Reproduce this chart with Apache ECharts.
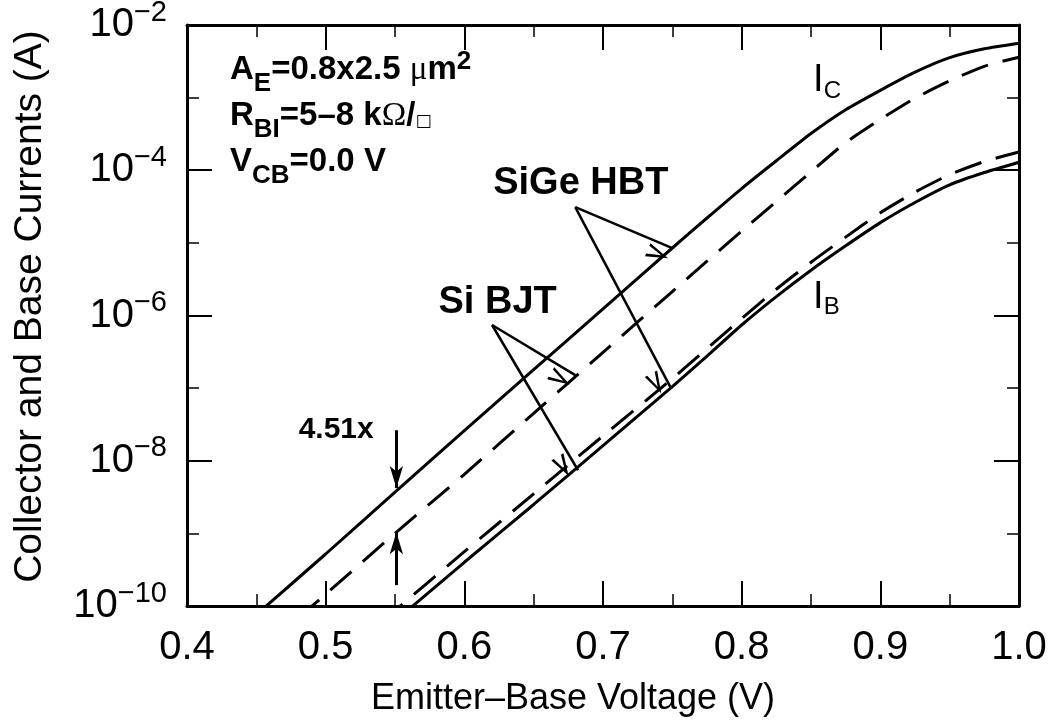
<!DOCTYPE html>
<html><head><meta charset="utf-8">
<script src="https://cdn.jsdelivr.net/npm/echarts@6/dist/echarts.min.js"></script>
<style>html,body{margin:0;padding:0;background:#fff}#c{width:1054px;height:727px}</style>
</head><body><div id="c"></div>
<script>
const FONT = '"Liberation Sans", Arial, Helvetica, sans-serif';

// ---------- data ----------
const vIcSiGe = [0.45, 0.50, 0.55, 0.60, 0.65, 0.70, 0.75, 0.775, 0.80, 0.825, 0.85, 0.875, 0.90, 0.925, 0.95, 0.975, 1.0];
const icSiGe  = [7.6e-11, 5.2e-10, 3.7e-9, 2.6e-8, 1.8e-7, 1.23e-6, 8.5e-6, 2.2e-5, 5.6e-5, 1.35e-4, 3.2e-4, 6.8e-4, 1.26e-3, 2.24e-3, 3.55e-3, 4.7e-3, 5.6e-3];
const vIcSi   = [0.48, 0.50, 0.55, 0.60, 0.65, 0.70, 0.75, 0.775, 0.80, 0.825, 0.85, 0.875, 0.90, 0.925, 0.95, 0.975, 1.0];
const icSi    = [6.8e-11, 1.45e-10, 1.0e-9, 6.5e-9, 4.5e-8, 3.1e-7, 2.14e-6, 5.6e-6, 1.45e-5, 3.7e-5, 9.5e-5, 2.4e-4, 5.0e-4, 9.8e-4, 1.7e-3, 2.7e-3, 3.6e-3];
const vIbSiGe = [0.55, 0.60, 0.65, 0.70, 0.75, 0.775, 0.80, 0.825, 0.85, 0.875, 0.90, 0.925, 0.95, 0.975, 1.0];
const ibSiGe  = [6.2e-11, 4.0e-10, 2.5e-9, 1.62e-8, 1.05e-7, 2.75e-7, 7.4e-7, 1.82e-6, 4.2e-6, 9.1e-6, 1.9e-5, 3.6e-5, 6.3e-5, 9.3e-5, 1.29e-4];
const vIbSi   = [0.54, 0.60, 0.65, 0.70, 0.75, 0.775, 0.80, 0.825, 0.85, 0.875, 0.90, 0.925, 0.95, 0.975, 1.0];
const ibSi    = [6.0e-11, 5.6e-10, 3.5e-9, 2.2e-8, 1.35e-7, 3.5e-7, 9.1e-7, 2.3e-6, 5.4e-6, 1.2e-5, 2.6e-5, 5.0e-5, 8.7e-5, 1.32e-4, 1.78e-4];

// tick values
const xTickLabels = ['0.4', '0.5', '0.6', '0.7', '0.8', '0.9', '1.0'];
const yMajorTicks = [1e-10, 1e-8, 1e-6, 1e-4, 1e-2];
const yMinorTicks = [1e-9, 1e-7, 1e-5, 1e-3];

// annotation arrows: [from [V, I], to [V, I]]
const labelArrows = [
  [[0.680, 3.11e-5], [0.750, 8.47e-6]],
  [[0.680, 3.11e-5], [0.749, 1.0e-7]],
  [[0.620, 7.4e-7],  [0.680, 1.51e-7]],
  [[0.620, 7.4e-7],  [0.682, 7.4e-9]]
];
const ratioArrows = [
  [[0.551, 2.63e-8], [0.551, 4.2e-9]],
  [[0.551, 1.94e-10],[0.551, 1.04e-9]]
];
// annotation labels anchored in data space
const notes = [
  { at: [0.684, 6.67e-5], text: '{b|SiGe HBT}', align: 'center' },
  { at: [0.624, 1.53e-6], text: '{b|Si BJT}', align: 'center' },
  { at: [0.5076, 2.64e-8], text: '{s|4.51x}', align: 'center' },
  { at: [0.8515, 1.45e-3], text: '{i|I}{c|C}', align: 'left' },
  { at: [0.8515, 1.53e-6], text: '{i|I}{c|B}', align: 'left' }
];

const pairs = (xs, ys) => xs.map((x, k) => [x, ys[k]]);

const chart = echarts.init(document.getElementById('c'), null, { renderer: 'canvas' });

const lineBase = { type: 'line', showSymbol: false, symbol: 'none', smooth: 0.2, clip: true, silent: true };
const axisLineStyle = { show: true, onZero: false, lineStyle: { color: '#000', width: 3 } };
const CHEVRON = 'path://M0,22 L6,0 L12,22 L9.6,22 L6,7.5 L2.4,22 Z';

function yAxisDef(pos, major, showLabel) {
  return {
    type: 'log', logBase: 10, min: 1e-10, max: 1e-2, position: pos,
    axisLine: major ? axisLineStyle : { show: false },
    splitLine: { show: false },
    axisTick: { show: true, inside: true, length: major ? 25 : 12,
      customValues: major ? yMajorTicks : yMinorTicks,
      lineStyle: { color: '#000', width: major ? 2 : 1.5 } },
    axisLabel: showLabel ? {
      show: true, margin: 20, customValues: yMajorTicks,
      formatter: v => '{b|10}{s|\u2212' + (-Math.round(Math.log10(v))) + '}',
      rich: {
        b: { fontSize: 40, lineHeight: 40, verticalAlign: 'bottom', fontFamily: FONT, color: '#000' },
        s: { fontSize: 29, lineHeight: 29, verticalAlign: 'bottom', padding: [0, 0, 18, 0], fontFamily: FONT, color: '#000' }
      }
    } : { show: false },
    name: showLabel ? 'Collector and Base Currents (A)' : '',
    nameLocation: 'middle', nameGap: 137,
    nameTextStyle: { fontSize: 39, fontFamily: FONT, color: '#000', padding: [0, 0, 0, 18] }
  };
}

function xAxisDef(pos, showLabel) {
  return {
    type: 'value', min: 0.4, max: 1.0, interval: 0.1, position: pos,
    axisLine: axisLineStyle,
    splitLine: { show: false },
    axisTick: { show: true, inside: true, length: 25, lineStyle: { color: '#000', width: 2 } },
    minorTick: { show: true, splitNumber: 2, length: 12, lineStyle: { color: '#000', width: 1.5 } },
    axisLabel: showLabel ? {
      show: true, margin: 22, fontSize: 40, fontFamily: FONT, color: '#000',
      formatter: v => xTickLabels[Math.round((v - 0.4) * 10)]
    } : { show: false },
    name: showLabel ? 'Emitter\u2013Base Voltage (V)' : '',
    nameLocation: 'middle', nameGap: 75,
    nameTextStyle: { fontSize: 36, fontFamily: FONT, color: '#000', padding: [0, 60, 0, 0] }
  };
}

const option = {
  animation: false,
  backgroundColor: '#fff',
  grid: { left: 187, right: 35, top: 25, bottom: 121, containLabel: false, outerBoundsMode: 'none' },
  xAxis: [xAxisDef('bottom', true), xAxisDef('top', false)],
  yAxis: [yAxisDef('left', true, true), yAxisDef('left', false, false), yAxisDef('right', true, false), yAxisDef('right', false, false)],
  series: [
    Object.assign({}, lineBase, { name: 'IC SiGe HBT', data: pairs(vIcSiGe, icSiGe),
      lineStyle: { color: '#000', width: 3 },
      markLine: {
        silent: true, symbol: ['none', CHEVRON], symbolSize: [14, 22], symbolOffset: [0, 11],
        label: { show: false },
        lineStyle: { color: '#000', width: 2.5, type: 'solid' },
        data: labelArrows.map(a => [{ coord: a[0] }, { coord: a[1] }])
      } }),
    Object.assign({}, lineBase, { name: 'IC Si BJT', data: pairs(vIcSi, icSi),
      lineStyle: { color: '#000', width: 3, type: [28, 15] },
      markLine: {
        silent: true, symbol: ['none', 'arrow'], symbolSize: [10, 22],
        label: { show: false },
        lineStyle: { color: '#000', width: 3, type: 'solid' },
        data: ratioArrows.map(a => [{ coord: a[0] }, { coord: a[1] }])
      } }),
    Object.assign({}, lineBase, { name: 'IB SiGe HBT', data: pairs(vIbSiGe, ibSiGe),
      lineStyle: { color: '#000', width: 3 } }),
    Object.assign({}, lineBase, { name: 'IB Si BJT', data: pairs(vIbSi, ibSi),
      lineStyle: { color: '#000', width: 3, type: [28, 15] } })
  ]
};
chart.setOption(option);

// annotation texts
const richNote = {
  b: { fontSize: 38, fontWeight: 'bold', fontFamily: FONT, fill: '#000' },
  s: { fontSize: 30, fontWeight: 'bold', fontFamily: FONT, fill: '#000' },
  i: { fontSize: 38, lineHeight: 38, verticalAlign: 'bottom', padding: [0, 0, 5, 0], fontFamily: FONT, fill: '#000' },
  c: { fontSize: 24, lineHeight: 24, verticalAlign: 'bottom', padding: [0, 0, 2, 0], fontFamily: FONT, fill: '#000' }
};
const graphics = notes.map(n => {
  const p = chart.convertToPixel({ xAxisIndex: 0, yAxisIndex: 0 }, n.at);
  return { type: 'text', x: p[0], y: p[1], silent: true,
    style: { text: n.text, align: n.align, verticalAlign: 'middle', rich: richNote } };
});
const richParam = {
  b: { fontSize: 33, lineHeight: 33, fontWeight: 'bold', verticalAlign: 'bottom', padding: [0, 0, 10, 0], fontFamily: FONT, fill: '#000' },
  u: { fontSize: 26, lineHeight: 26, fontWeight: 'bold', verticalAlign: 'bottom', padding: [0, 0, 0, 0], fontFamily: FONT, fill: '#000' },
  p: { fontSize: 26, lineHeight: 26, fontWeight: 'bold', verticalAlign: 'bottom', padding: [0, 0, 22, 0], fontFamily: FONT, fill: '#000' },
  g: { fontSize: 33, lineHeight: 33, verticalAlign: 'bottom', padding: [0, 0, 10, 0], fontFamily: '"Liberation Serif", serif', fill: '#000' },
  q: { fontSize: 17, lineHeight: 17, verticalAlign: 'bottom', padding: [0, 0, 12, 0], fontFamily: '"DejaVu Sans", sans-serif', fill: '#000' }
};
const paramLines = [
  '{b|A}{u|E}{b|=0.8x2.5 }{g|\u03bc}{b|m}{p|2}',
  '{b|R}{u|BI}{b|=5\u20138 k}{g|\u03a9}{b|/}{q|\u25a1}',
  '{b|V}{u|CB}{b|=0.0 V}'
];
const paramY = [80, 126, 172];
paramLines.forEach((t, k) => {
  graphics.push({ type: 'text', x: 230, y: paramY[k], silent: true,
    style: { text: t, align: 'left', verticalAlign: 'middle', rich: richParam } });
});
chart.setOption({ graphic: graphics });
</script>
</body></html>
